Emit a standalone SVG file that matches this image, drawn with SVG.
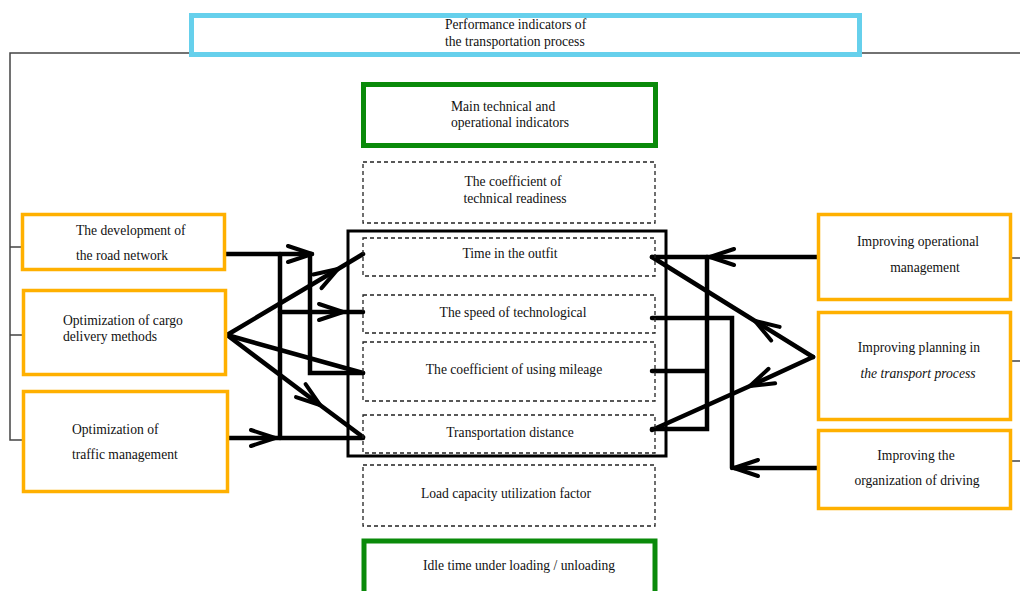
<svg xmlns="http://www.w3.org/2000/svg" width="1020" height="591" viewBox="0 0 1020 591">
<defs>
<style>
text{font-family:"Liberation Serif","Times New Roman",serif;font-size:13.6px;fill:#111}
.c{text-anchor:middle}
.blue{fill:#fff;stroke:#66d0ec;stroke-width:5}
.green{fill:#fff;stroke:#0a8a0a;stroke-width:5}
.orange{fill:#fff;stroke:#ffb000;stroke-width:3.5}
.dash{fill:none;stroke:#222;stroke-width:1.3;stroke-dasharray:4 3}
.frame{fill:none;stroke:#000;stroke-width:3}
.br{fill:none;stroke:#444;stroke-width:1.5}
.ln{fill:none;stroke:#000;stroke-width:4.5;stroke-linecap:round;stroke-linejoin:miter}
.am{marker-mid:url(#ah)}
.ae{marker-end:url(#ah)}
</style>
<marker id="ah" viewBox="-30 -12 34 24" refX="0" refY="0" markerWidth="34" markerHeight="24" markerUnits="userSpaceOnUse" orient="auto">
<path d="M-24,-8 L0,0 L-24,8" fill="none" stroke="#000" stroke-width="4" stroke-linejoin="round" stroke-linecap="round"/>
</marker>
</defs>
<rect width="1020" height="591" fill="#fff"/>

<g id="brackets">
<path class="br" d="M190,53 L10,53 L10,440 L22,440 M10,247 L22,247 M10,335 L22,335"/>
<path class="br" d="M862,53 L1020,53 M1012,258 L1020,258 M1012,361 L1020,361 M1012,461 L1020,461"/>
</g>

<g id="frame">
<rect class="frame" x="348" y="231" width="318" height="225"/>
</g>

<g id="connectors">
<path class="ln ae" d="M226,254 L312,254"/>
<path class="ln" d="M280,254 L280,438"/>
<path class="ln" d="M310,254 L310,373 L363,373"/>
<path class="ln am" d="M227,438 L275,438 L363,438"/>
<path class="ln am" d="M280,312 L343,312 L363,312"/>
<path class="ln am" d="M227,335 L338,269 L363,254"/>
<path class="ln" d="M227,335 L363,373"/>
<path class="ln am" d="M227,335 L320,405 L363,437"/>
<path class="ln am" d="M817,257 L710,257 L652,257"/>
<path class="ln" d="M707,257 L707,429 L652,429 M707,371 L652,371"/>
<path class="ln" d="M652,318 L732,318 L732,468"/>
<path class="ln ae" d="M817,468 L734,468"/>
<path class="ln am" d="M813,357 L755,321 L652,257"/>
<path class="ln am" d="M813,357 L750,386 L652,430"/>
</g>

<g id="n-performance">
<rect class="blue" x="191.5" y="15.5" width="668" height="39"/>
<text x="445" y="29">Performance indicators of</text>
<text x="445" y="46">the transportation process</text>
</g>

<g id="n-main">
<rect class="green" x="363.5" y="84.5" width="292" height="61"/>
<text x="451" y="111">Main technical and</text>
<text x="451" y="127">operational indicators</text>
</g>

<g id="n-readiness">
<rect class="dash" x="363" y="162" width="292" height="61"/>
<text class="c" x="513" y="186">The coefficient of</text>
<text class="c" x="515" y="203">technical readiness</text>
</g>

<g id="n-time">
<rect class="dash" x="363" y="238" width="292" height="38"/>
<text class="c" x="510" y="258">Time in the outfit</text>
</g>

<g id="n-speed">
<rect class="dash" x="363" y="295" width="292" height="38"/>
<text class="c" x="513" y="317">The speed of technological</text>
</g>

<g id="n-mileage">
<rect class="dash" x="363" y="342" width="292" height="59"/>
<text class="c" x="514" y="374">The coefficient of using mileage</text>
</g>

<g id="n-distance">
<rect class="dash" x="363" y="415" width="292" height="38"/>
<text class="c" x="510" y="437">Transportation distance</text>
</g>

<g id="n-load">
<rect class="dash" x="363" y="465" width="292" height="61"/>
<text class="c" x="506" y="498">Load capacity utilization factor</text>
</g>

<g id="n-idle">
<rect class="green" x="364" y="541" width="291" height="62"/>
<text class="c" x="519" y="570">Idle time under loading / unloading</text>
</g>

<g id="n-road">
<rect class="orange" x="22.5" y="214.5" width="202" height="55"/>
<text x="76" y="235">The development of</text>
<text x="76" y="260">the road network</text>
</g>

<g id="n-cargo">
<rect class="orange" x="23.5" y="290.5" width="202" height="84"/>
<text x="63" y="325">Optimization of cargo</text>
<text x="63" y="341">delivery methods</text>
</g>

<g id="n-traffic">
<rect class="orange" x="23.5" y="391.5" width="204" height="100"/>
<text x="72" y="434">Optimization of</text>
<text x="72" y="459">traffic management</text>
</g>

<g id="n-operational">
<rect class="orange" x="818.5" y="214.5" width="192" height="85"/>
<text class="c" x="918" y="246">Improving operational</text>
<text class="c" x="925" y="272">management</text>
</g>

<g id="n-planning">
<rect class="orange" x="818.5" y="312.5" width="192" height="107"/>
<text class="c" x="919" y="352">Improving planning in</text>
<text class="c" x="918" y="378" font-style="italic">the transport process</text>
</g>

<g id="n-driving">
<rect class="orange" x="818.5" y="430.5" width="192" height="78"/>
<text class="c" x="916" y="460">Improving the</text>
<text class="c" x="917" y="485">organization of driving</text>
</g>
</svg>
